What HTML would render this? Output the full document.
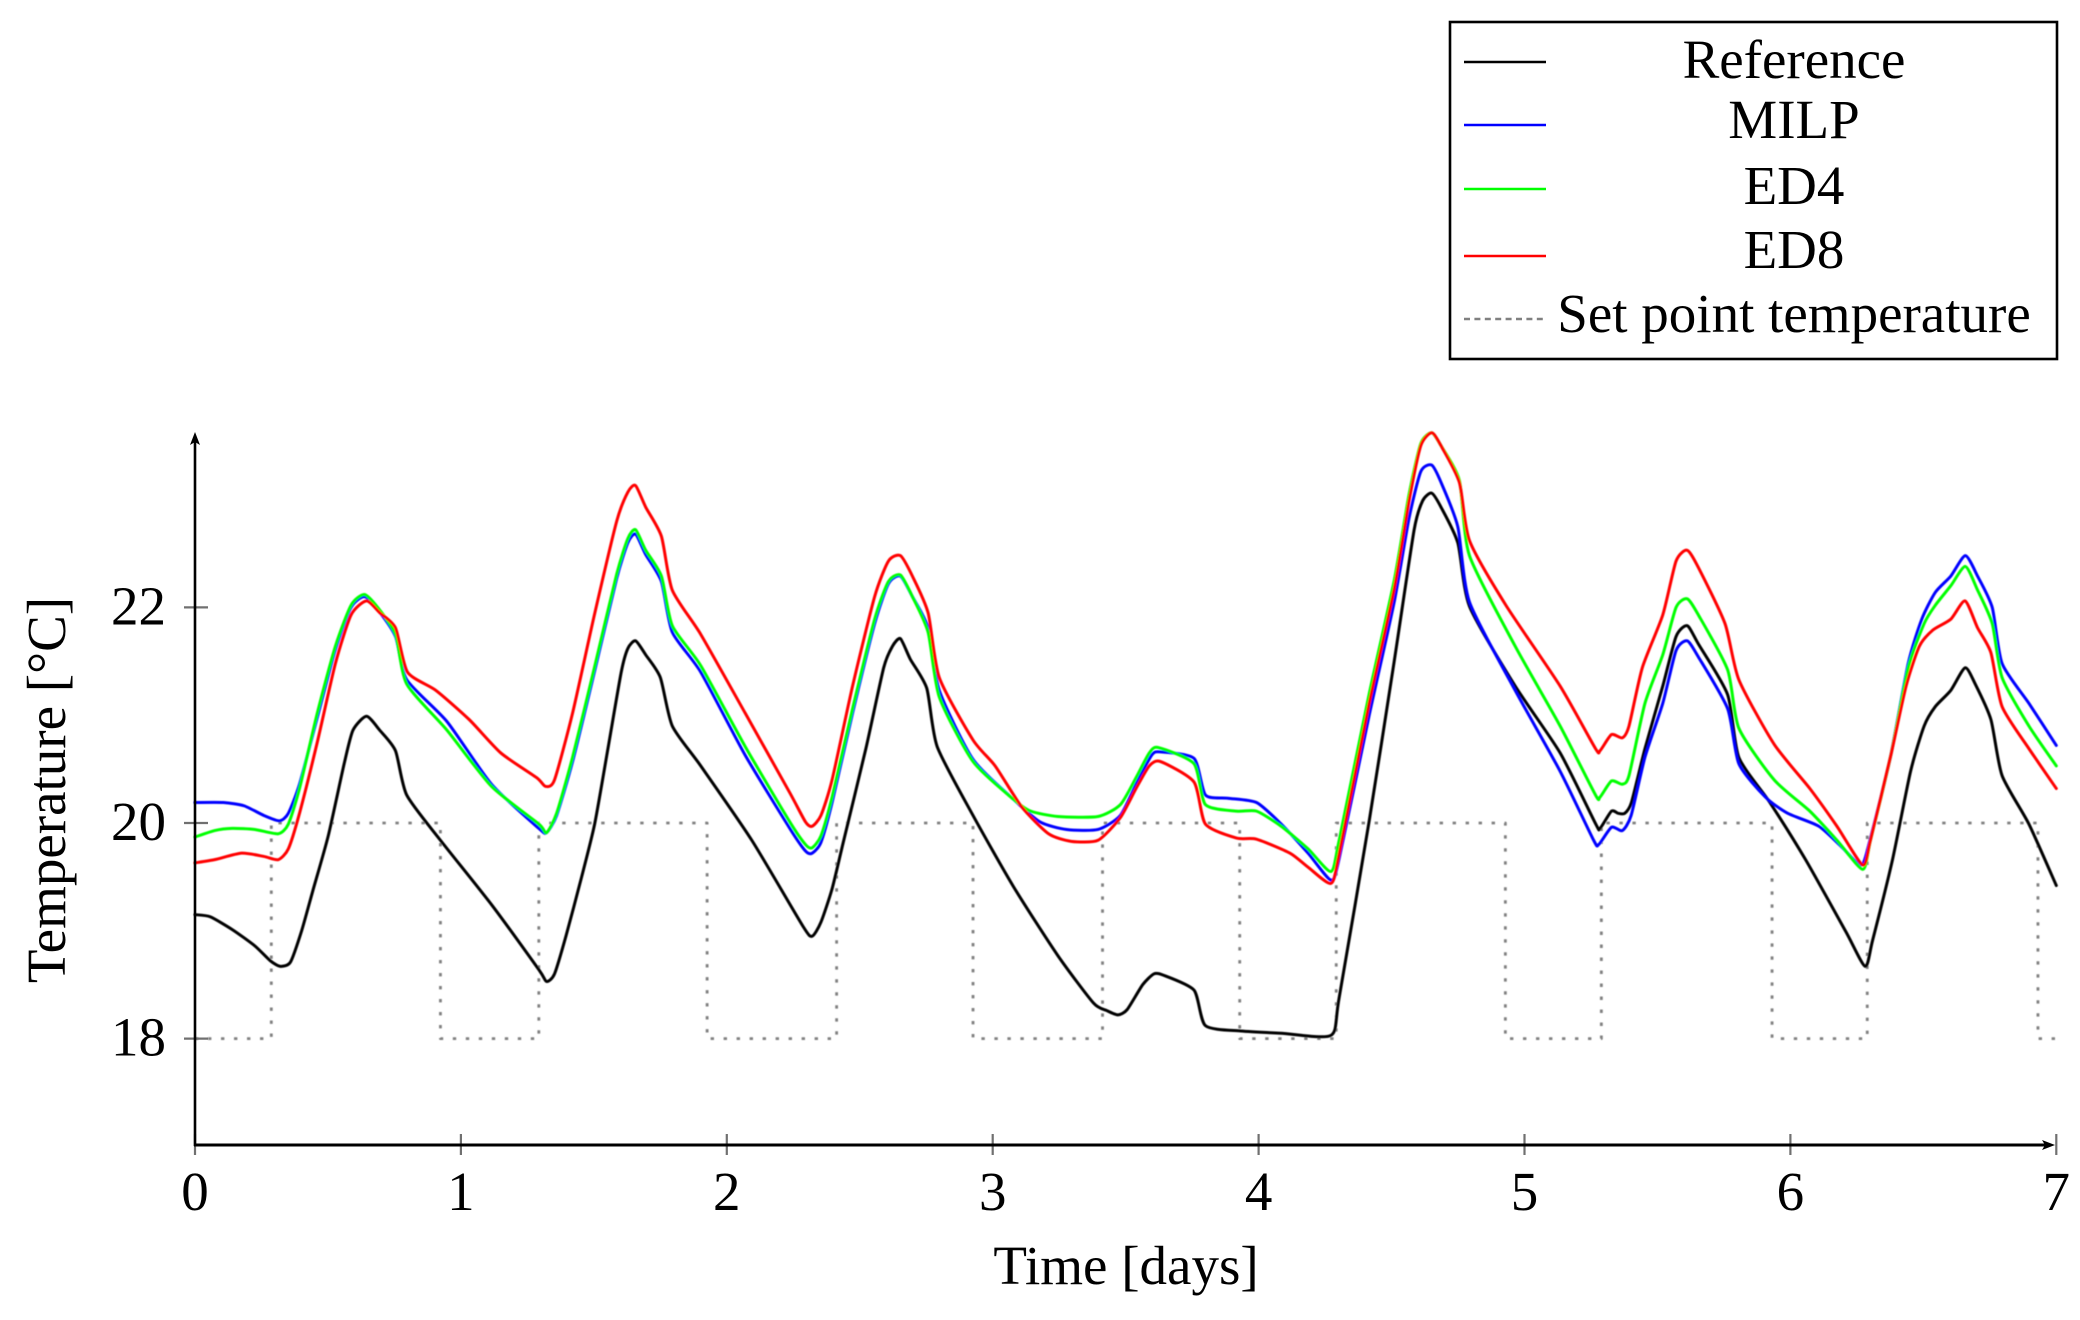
<!DOCTYPE html>
<html lang="en">
<head>
<meta charset="utf-8">
<title>Temperature over time</title>
<style>
  html, body { margin: 0; padding: 0; background: #fff; }
  svg { display: block; }
  text { font-family: "Liberation Serif", serif; fill: #000; }
</style>
</head>
<body>
<svg id="chart" xmlns="http://www.w3.org/2000/svg" width="2080" height="1320" viewBox="0 0 2080 1320">
  <defs>
    <filter id="soft" x="-5%" y="-5%" width="110%" height="110%"><feGaussianBlur stdDeviation="0.45"/></filter>
  </defs>
  <rect x="0" y="0" width="2080" height="1320" fill="#fff"/>

  <g id="series-layer" fill="none" stroke-linejoin="round" stroke-linecap="round" filter="url(#soft)">
    <path id="line-setpoint" stroke="#808080" stroke-width="2.8" stroke-linecap="butt" stroke-dasharray="3.4 9.6"/>
    <path id="line-reference" stroke="#000000" stroke-width="3"/>
    <path id="line-milp" stroke="#0000ff" stroke-width="3"/>
    <path id="line-ed4" stroke="#00ff00" stroke-width="3"/>
    <path id="line-ed8" stroke="#ff0000" stroke-width="3"/>
  </g>

  <g id="y-ticks"></g>
  <g id="x-ticks"></g>

  <g>
    <line x1="195" y1="1146" x2="195" y2="438" stroke="#000" stroke-width="2.6"/>
    <path d="M195 432 L200 445 L195 442 L190 445 Z" fill="#000"/>
    <line x1="194" y1="1145" x2="2048" y2="1145" stroke="#000" stroke-width="3"/>
    <path d="M2055 1145 L2042 1150 L2045 1145 L2042 1140 Z" fill="#000"/>
  </g>

  <text x="1126" y="1284" font-size="55" text-anchor="middle">Time [days]</text>
  <text transform="translate(65 790) rotate(-90)" font-size="55" text-anchor="middle">Temperature [°C]</text>

  <g>
    <rect x="1450" y="22" width="607" height="337" fill="#fff" stroke="#000" stroke-width="2.6"/>
    <line x1="1464" y1="62" x2="1546" y2="62" stroke="#000" stroke-width="2.6"/>
    <text x="1794" y="78" font-size="55" text-anchor="middle">Reference</text>
    <line x1="1464" y1="125" x2="1546" y2="125" stroke="#0000ff" stroke-width="2.6"/>
    <text x="1794" y="138" font-size="55" text-anchor="middle">MILP</text>
    <line x1="1464" y1="189" x2="1546" y2="189" stroke="#00ff00" stroke-width="2.6"/>
    <text x="1794" y="204" font-size="55" text-anchor="middle">ED4</text>
    <line x1="1464" y1="256" x2="1546" y2="256" stroke="#ff0000" stroke-width="2.6"/>
    <text x="1794" y="268" font-size="55" text-anchor="middle">ED8</text>
    <line x1="1464" y1="319" x2="1546" y2="319" stroke="#808080" stroke-width="2.6" stroke-dasharray="6 4.4"/>
    <text x="1794" y="332" font-size="55" text-anchor="middle">Set point temperature</text>
  </g>
</svg>

<script>
const xTickLabels = [0, 1, 2, 3, 4, 5, 6, 7];
const yTickLabels = [18, 20, 22];

const setpointDays = [0, 0.287, 0.923, 1.293, 1.926, 2.413, 2.926, 3.413, 3.929, 4.292, 4.928, 5.289, 5.931, 6.289, 6.931, 7];
const setpointTemps = [18, 20, 18, 20, 18, 20, 18, 20, 18, 20, 18, 20, 18, 20, 18, 18];

const referenceDays = [0, 0.057, 0.141, 0.225, 0.284, 0.321, 0.359, 0.401, 0.443, 0.501, 0.561, 0.594, 0.645, 0.695, 0.754, 0.796, 0.923, 1.116, 1.293, 1.322, 1.352, 1.395, 1.453, 1.503, 1.553, 1.603, 1.628, 1.657, 1.695, 1.75, 1.795, 1.902, 2.094, 2.287, 2.321, 2.354, 2.396, 2.438, 2.523, 2.59, 2.623, 2.653, 2.69, 2.752, 2.791, 2.926, 3.078, 3.245, 3.379, 3.429, 3.471, 3.506, 3.564, 3.606, 3.64, 3.757, 3.8, 3.934, 4.085, 4.272, 4.303, 4.416, 4.51, 4.585, 4.617, 4.651, 4.686, 4.749, 4.793, 4.965, 5.134, 5.268, 5.284, 5.327, 5.352, 5.377, 5.402, 5.453, 5.52, 5.57, 5.612, 5.654, 5.764, 5.806, 5.923, 6.057, 6.209, 6.281, 6.309, 6.384, 6.452, 6.503, 6.545, 6.603, 6.657, 6.695, 6.754, 6.796, 6.897, 7];
const referenceTemps = [19.15, 19.13, 19.01, 18.86, 18.72, 18.67, 18.71, 19.0, 19.37, 19.88, 20.55, 20.86, 20.99, 20.86, 20.67, 20.26, 19.84, 19.24, 18.64, 18.53, 18.6, 18.95, 19.49, 19.99, 20.69, 21.4, 21.62, 21.69, 21.56, 21.35, 20.9, 20.53, 19.84, 19.04, 18.95, 19.08, 19.39, 19.82, 20.69, 21.44, 21.64, 21.71, 21.52, 21.25, 20.71, 20.07, 19.41, 18.77, 18.33, 18.26, 18.22, 18.27, 18.5, 18.6, 18.59, 18.45, 18.12, 18.07, 18.05, 18.03, 18.38, 20.02, 21.5, 22.72, 22.99, 23.06, 22.93, 22.6, 22.01, 21.27, 20.65, 19.99, 19.95, 20.11, 20.09, 20.09, 20.19, 20.69, 21.27, 21.73, 21.83, 21.66, 21.19, 20.61, 20.19, 19.66, 18.99, 18.67, 18.91, 19.66, 20.48, 20.9, 21.08, 21.23, 21.44, 21.29, 20.96, 20.44, 19.99, 19.42];

const milpDays = [0, 0.107, 0.184, 0.259, 0.318, 0.351, 0.393, 0.46, 0.527, 0.587, 0.637, 0.687, 0.754, 0.796, 0.948, 1.115, 1.293, 1.322, 1.36, 1.42, 1.502, 1.586, 1.628, 1.657, 1.695, 1.754, 1.795, 1.902, 2.069, 2.237, 2.296, 2.321, 2.354, 2.396, 2.473, 2.556, 2.608, 2.653, 2.698, 2.757, 2.799, 2.926, 3.078, 3.178, 3.278, 3.396, 3.48, 3.539, 3.598, 3.631, 3.757, 3.8, 3.884, 3.992, 4.085, 4.186, 4.272, 4.303, 4.416, 4.51, 4.566, 4.61, 4.651, 4.686, 4.749, 4.793, 4.965, 5.134, 5.26, 5.279, 5.327, 5.368, 5.401, 5.453, 5.52, 5.57, 5.612, 5.654, 5.764, 5.806, 5.906, 5.99, 6.107, 6.192, 6.267, 6.301, 6.376, 6.443, 6.494, 6.545, 6.603, 6.658, 6.704, 6.759, 6.796, 6.897, 7];
const milpTemps = [20.19, 20.19, 20.16, 20.07, 20.02, 20.09, 20.36, 20.98, 21.6, 22.0, 22.1, 21.98, 21.73, 21.33, 20.94, 20.36, 19.95, 19.91, 20.07, 20.57, 21.4, 22.27, 22.6, 22.68, 22.49, 22.24, 21.77, 21.4, 20.63, 19.95, 19.74, 19.72, 19.82, 20.19, 21.02, 21.85, 22.22, 22.29, 22.1, 21.81, 21.23, 20.59, 20.22, 20.01, 19.94, 19.94, 20.07, 20.36, 20.63, 20.66, 20.6, 20.26, 20.23, 20.19, 19.99, 19.72, 19.47, 19.67, 21.0, 22.05, 22.83, 23.26, 23.32, 23.16, 22.75, 22.05, 21.23, 20.48, 19.84, 19.8, 19.96, 19.93, 20.07, 20.61, 21.11, 21.6, 21.69, 21.54, 21.06, 20.55, 20.24, 20.09, 19.97, 19.78, 19.61, 19.86, 20.61, 21.48, 21.89, 22.14, 22.29, 22.48, 22.29, 22.0, 21.48, 21.11, 20.72];

const ed4Days = [0, 0.074, 0.14, 0.225, 0.313, 0.351, 0.393, 0.46, 0.528, 0.587, 0.637, 0.687, 0.754, 0.796, 0.948, 1.115, 1.293, 1.322, 1.36, 1.42, 1.502, 1.586, 1.628, 1.657, 1.695, 1.754, 1.795, 1.902, 2.069, 2.237, 2.296, 2.321, 2.354, 2.396, 2.473, 2.556, 2.608, 2.653, 2.698, 2.757, 2.799, 2.926, 3.078, 3.143, 3.245, 3.396, 3.48, 3.539, 3.589, 3.623, 3.757, 3.8, 3.917, 3.992, 4.085, 4.186, 4.272, 4.303, 4.416, 4.51, 4.566, 4.61, 4.651, 4.686, 4.755, 4.793, 4.965, 5.134, 5.267, 5.284, 5.327, 5.368, 5.393, 5.453, 5.52, 5.57, 5.612, 5.654, 5.764, 5.806, 5.939, 6.073, 6.175, 6.272, 6.301, 6.376, 6.443, 6.503, 6.545, 6.603, 6.658, 6.704, 6.759, 6.796, 6.897, 7];
const ed4Temps = [19.87, 19.93, 19.95, 19.94, 19.9, 19.99, 20.32, 21.02, 21.64, 22.02, 22.12, 22.0, 21.75, 21.29, 20.86, 20.34, 19.99, 19.91, 20.09, 20.61, 21.44, 22.31, 22.64, 22.72, 22.53, 22.29, 21.83, 21.46, 20.71, 20.01, 19.8, 19.77, 19.88, 20.24, 21.06, 21.89, 22.24, 22.3, 22.1, 21.77, 21.17, 20.57, 20.22, 20.11, 20.06, 20.06, 20.17, 20.42, 20.65, 20.7, 20.55, 20.17, 20.11, 20.11, 19.97, 19.76, 19.55, 19.84, 21.2, 22.25, 23.05, 23.52, 23.62, 23.5, 23.18, 22.48, 21.64, 20.9, 20.26, 20.24, 20.39, 20.36, 20.44, 21.11, 21.56, 22.0, 22.08, 21.93, 21.42, 20.88, 20.4, 20.11, 19.84, 19.57, 19.84, 20.61, 21.44, 21.85, 22.02, 22.2, 22.38, 22.16, 21.85, 21.35, 20.9, 20.53];

const ed8Days = [0, 0.074, 0.175, 0.259, 0.313, 0.351, 0.393, 0.46, 0.528, 0.587, 0.645, 0.695, 0.754, 0.799, 0.906, 1.031, 1.15, 1.285, 1.318, 1.352, 1.42, 1.502, 1.586, 1.628, 1.657, 1.695, 1.754, 1.795, 1.902, 2.069, 2.237, 2.296, 2.321, 2.354, 2.396, 2.473, 2.556, 2.608, 2.653, 2.698, 2.757, 2.799, 2.926, 3.009, 3.109, 3.21, 3.295, 3.396, 3.48, 3.539, 3.589, 3.631, 3.757, 3.8, 3.917, 3.992, 4.118, 4.186, 4.272, 4.303, 4.416, 4.51, 4.566, 4.61, 4.651, 4.686, 4.755, 4.793, 4.93, 5.134, 5.267, 5.284, 5.327, 5.368, 5.393, 5.443, 5.52, 5.57, 5.612, 5.654, 5.754, 5.806, 5.939, 6.073, 6.175, 6.272, 6.301, 6.376, 6.435, 6.485, 6.536, 6.603, 6.657, 6.704, 6.754, 6.796, 6.897, 7];
const ed8Temps = [19.63, 19.66, 19.72, 19.69, 19.66, 19.76, 20.09, 20.75, 21.48, 21.93, 22.06, 21.95, 21.81, 21.4, 21.23, 20.96, 20.65, 20.42, 20.34, 20.4, 21.02, 21.93, 22.8, 23.07, 23.13, 22.93, 22.66, 22.16, 21.75, 21.02, 20.28, 20.01, 19.97, 20.07, 20.4, 21.27, 22.1, 22.43, 22.48, 22.29, 21.95, 21.35, 20.77, 20.53, 20.15, 19.9, 19.83, 19.84, 20.05, 20.32, 20.53, 20.57, 20.38, 19.99, 19.86, 19.85, 19.72, 19.59, 19.44, 19.71, 21.11, 22.17, 22.99, 23.5, 23.62, 23.5, 23.16, 22.62, 22.02, 21.27, 20.69, 20.67, 20.82, 20.79, 20.9, 21.44, 21.93, 22.43, 22.53, 22.37, 21.85, 21.33, 20.73, 20.32, 19.97, 19.61, 19.84, 20.61, 21.27, 21.64, 21.79, 21.89, 22.06, 21.81, 21.58, 21.08, 20.69, 20.32];

const SVG_NS = 'http://www.w3.org/2000/svg';

function xScale(day) {
  return 195 + 265.9 * day;
}

function yScale(temp) {
  return 823 - 107.8 * (temp - 20);
}

function smoothPath(days, temps) {
  const pts = days.map(function (d, i) { return [xScale(d), yScale(temps[i])]; });
  const k = 1 / 9;
  let d = 'M' + pts[0][0].toFixed(2) + ' ' + pts[0][1].toFixed(2);
  for (let i = 0; i < pts.length - 1; i++) {
    const p0 = pts[Math.max(i - 1, 0)];
    const p1 = pts[i];
    const p2 = pts[i + 1];
    const p3 = pts[Math.min(i + 2, pts.length - 1)];
    const c1x = p1[0] + (p2[0] - p0[0]) * k;
    const c1y = p1[1] + (p2[1] - p0[1]) * k;
    const c2x = p2[0] - (p3[0] - p1[0]) * k;
    const c2y = p2[1] - (p3[1] - p1[1]) * k;
    d += ' C' + c1x.toFixed(2) + ' ' + c1y.toFixed(2) + ' ' + c2x.toFixed(2) + ' ' + c2y.toFixed(2) + ' ' + p2[0].toFixed(2) + ' ' + p2[1].toFixed(2);
  }
  return d;
}

function stepPath(days, temps) {
  let d = 'M' + xScale(days[0]).toFixed(2) + ' ' + yScale(temps[0]).toFixed(2);
  for (let i = 1; i < days.length; i++) {
    d += ' L' + xScale(days[i]).toFixed(2) + ' ' + yScale(temps[i - 1]).toFixed(2);
    d += ' L' + xScale(days[i]).toFixed(2) + ' ' + yScale(temps[i]).toFixed(2);
  }
  return d;
}

document.getElementById('line-setpoint').setAttribute('d', stepPath(setpointDays, setpointTemps));
document.getElementById('line-reference').setAttribute('d', smoothPath(referenceDays, referenceTemps));
document.getElementById('line-milp').setAttribute('d', smoothPath(milpDays, milpTemps));
document.getElementById('line-ed4').setAttribute('d', smoothPath(ed4Days, ed4Temps));
document.getElementById('line-ed8').setAttribute('d', smoothPath(ed8Days, ed8Temps));

const yTickGroup = document.getElementById('y-ticks');
yTickLabels.forEach(function (value) {
  const tick = document.createElementNS(SVG_NS, 'line');
  
  
  tick.setAttribute('x1', 184);
  tick.setAttribute('x2', 208);
  tick.setAttribute('y1', yScale(value));
  tick.setAttribute('y2', yScale(value));
  tick.setAttribute('stroke', '#707070');
  tick.setAttribute('stroke-width', 2.2);
  yTickGroup.appendChild(tick);
  const label = document.createElementNS(SVG_NS, 'text');
  
  
  label.setAttribute('x', 166);
  label.setAttribute('y', yScale(value) + 17);
  label.setAttribute('font-size', 55);
  label.setAttribute('text-anchor', 'end');
  label.textContent = String(value);
  yTickGroup.appendChild(label);
});

const xTickGroup = document.getElementById('x-ticks');
xTickLabels.forEach(function (value) {
  const tick = document.createElementNS(SVG_NS, 'line');
  
  
  tick.setAttribute('x1', xScale(value));
  tick.setAttribute('x2', xScale(value));
  tick.setAttribute('y1', 1134);
  tick.setAttribute('y2', 1155);
  tick.setAttribute('stroke', '#707070');
  tick.setAttribute('stroke-width', 2.2);
  xTickGroup.appendChild(tick);
  const label = document.createElementNS(SVG_NS, 'text');
  
  
  label.setAttribute('x', xScale(value));
  label.setAttribute('y', 1210);
  label.setAttribute('font-size', 55);
  label.setAttribute('text-anchor', 'middle');
  label.textContent = String(value);
  xTickGroup.appendChild(label);
});
</script>
</body>
</html>
